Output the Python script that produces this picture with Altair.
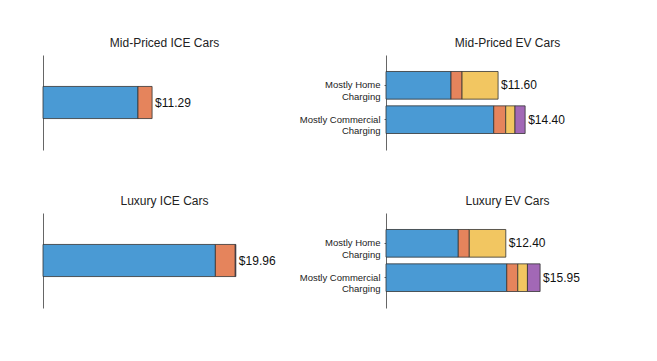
import altair as alt
import pandas as pd

# ---- data ----
components = ["Component A", "Component B", "Component C", "Component D"]
colors = ["#4a9ad4", "#e5845c", "#f2c661", "#a268b6"]

titles = ["Mid-Priced ICE Cars", "Mid-Priced EV Cars", "Luxury ICE Cars", "Luxury EV Cars"]
ice_cats = ["ICE"]
ev_cats = ["Mostly Home Charging", "Mostly Commercial Charging"]

mid_ice = [9.83, 1.46, 0.0, 0.0]
lux_ice = [17.84, 2.06, 0.0, 0.06]
mid_ev_home = [6.73, 1.14, 3.73, 0.0]
mid_ev_comm = [11.15, 1.24, 0.96, 1.05]
lux_ev_home = [7.48, 1.14, 3.78, 0.0]
lux_ev_comm = [12.50, 1.14, 1.00, 1.31]

mid_ice_totals = [11.29]
lux_ice_totals = [19.96]
mid_ev_totals = [11.60, 14.40]
lux_ev_totals = [12.40, 15.95]

FONT = "Liberation Sans"
X_MAX = 25.15


def panel(title, cats, rows, totals, ev):
    recs = []
    for cat, vals in zip(cats, rows):
        for i, (comp, v) in enumerate(zip(components, vals)):
            if v > 0:
                recs.append({"cat": cat, "component": comp, "value": v, "idx": i})
    df = pd.DataFrame(recs)
    tdf = pd.DataFrame({"cat": cats, "total": totals,
                        "label": ["${:.2f}".format(t) for t in totals]})
    if ev:
        yscale = alt.Scale(domain=cats, paddingInner=0.195, paddingOuter=0.48)
        yaxis = alt.Axis(title=None, labelExpr="[replace(datum.label, ' Charging', ''), 'Charging']",
                         tickSize=2, tickColor="#666", domainColor="#666",
                         labelFontSize=9.5, labelLineHeight=11.5, labelPadding=4,
                         labelColor="#222", labelFont=FONT, grid=False)
    else:
        yscale = alt.Scale(domain=cats, paddingInner=0, paddingOuter=0.98)
        yaxis = alt.Axis(title=None, labels=False, ticks=False, domainColor="#666", grid=False)
    bars = alt.Chart(df).mark_bar(stroke="#333333", strokeWidth=0.8).encode(
        x=alt.X("value:Q", stack="zero",
                scale=alt.Scale(domain=[0, X_MAX], nice=False), axis=None),
        y=alt.Y("cat:N", sort=cats, scale=yscale, axis=yaxis),
        color=alt.Color("component:N", scale=alt.Scale(domain=components, range=colors), legend=None),
        order=alt.Order("idx:Q"),
    )
    text = alt.Chart(tdf).mark_text(align="left", baseline="middle", dx=3,
                                    fontSize=12, font=FONT, color="#111").encode(
        x=alt.X("total:Q"),
        y=alt.Y("cat:N", sort=cats),
        text="label:N",
    )
    return alt.layer(bars, text).properties(width=243, height=95, title=title)


p1 = panel(titles[0], ice_cats, [mid_ice], mid_ice_totals, False)
p2 = panel(titles[1], ev_cats, [mid_ev_home, mid_ev_comm], mid_ev_totals, True)
p3 = panel(titles[2], ice_cats, [lux_ice], lux_ice_totals, False)
p4 = panel(titles[3], ev_cats, [lux_ev_home, lux_ev_comm], lux_ev_totals, True)

chart = alt.hconcat(
    alt.vconcat(p1, p3, spacing=45),
    alt.vconcat(p2, p4, spacing=45),
    spacing=13,
).properties(
    padding={"left": 34, "top": 29, "right": 5, "bottom": 5},
    background="white",
).configure_title(
    fontSize=12, font=FONT, fontWeight="normal", anchor="middle", offset=5, color="#222"
).configure_view(stroke=None)

chart.save("out.html", embed_options={"renderer": "svg", "actions": False})
